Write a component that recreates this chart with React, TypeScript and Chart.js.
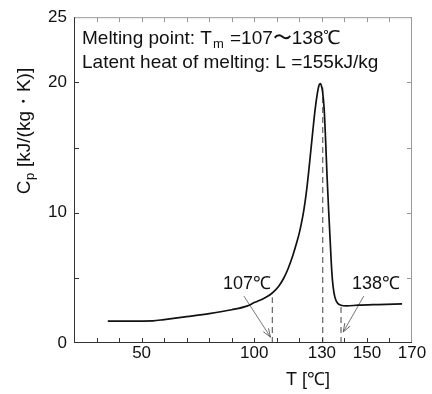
import React, { useEffect, useRef } from "react";
import { Chart, registerables } from "chart.js";

Chart.register(...registerables);

// Specific heat curve (T in °C, Cp in kJ/(kg·K))
const tempC = [35, 45, 55, 60, 70, 80, 90, 97, 100, 104, 107, 109, 111, 113, 115, 117, 119, 120, 121, 122, 123, 124, 125, 126, 127, 128, 128.7, 129.2, 129.7, 130.3, 131, 131.6, 132.3, 133, 133.7, 134.4, 135, 135.8, 137, 138.5, 141, 146, 155, 165.6];
const cpValues = [1.68, 1.68, 1.7, 1.8, 2.02, 2.25, 2.55, 2.85, 3.1, 3.4, 3.7, 4.0, 4.4, 4.95, 5.7, 6.65, 7.8, 8.45, 9.25, 10.2, 11.4, 12.9, 14.6, 16.3, 17.9, 19.15, 19.75, 19.9, 19.8, 19.3, 18.0, 15.8, 12.8, 10.2, 7.8, 5.5, 4.3, 3.5, 3.05, 2.9, 2.85, 2.9, 2.95, 3.0];

// Axis ticks
const xTickLabels = [50, 100, 130, 150, 170];
const xMinorTicks = [30, 40, 50, 60, 70, 80, 90, 100, 110, 120, 130, 140, 150, 160];
const yTickLabels = [0, 10, 20, 25];
const yMinorTicks = [5, 10, 15, 20];

// Dashed marker lines
const markerTemps = [108, 130.4, 138.5];
const markerTops = [3.5, 19.6, 2.8];

// Arrow annotations
const arrowLabels = ["107℃", "138℃"];
const arrowLabelT = [96.8, 154];
const arrowLabelCp = [4.5, 4.5];
const arrowStartT = [95.4, 148.6];
const arrowStartCp = [3.6, 3.6];
const arrowEndT = [107.2, 139.5];
const arrowEndCp = [0.45, 0.85];

const FONT = "'Liberation Sans', Arial, Helvetica, sans-serif";

export default function App() {
  const ref = useRef<HTMLCanvasElement | null>(null);

  useEffect(() => {
    const canvas = ref.current;
    if (!canvas) return;

    const datasets: any[] = [
      {
        data: tempC.map((t, i) => ({ x: t, y: cpValues[i] })),
        borderColor: "#111",
        borderWidth: 1.7,
        pointRadius: 0,
        cubicInterpolationMode: "monotone",
        fill: false,
      },
    ];
    markerTemps.forEach((t, i) => {
      datasets.push({
        data: [
          { x: t, y: 0 },
          { x: t, y: markerTops[i] },
        ],
        borderColor: "#444",
        borderWidth: 1,
        borderDash: [6, 4],
        pointRadius: 0,
        fill: false,
      });
    });
    arrowStartT.forEach((t, i) => {
      datasets.push({
        data: [
          { x: t, y: arrowStartCp[i] },
          { x: arrowEndT[i], y: arrowEndCp[i] },
        ],
        borderColor: "#555",
        borderWidth: 0.8,
        pointRadius: 0,
        fill: false,
      });
    });

    const decor = {
      id: "decor",
      afterDraw(chart: any) {
        const ctx = chart.ctx;
        const xs = chart.scales.x;
        const ys = chart.scales.y;
        const { left, right, top, bottom } = chart.chartArea;
        ctx.save();

        // frame
        ctx.lineWidth = 1;
        ctx.strokeStyle = "#999";
        ctx.beginPath();
        ctx.moveTo(left, top + 0.5);
        ctx.lineTo(right, top + 0.5);
        ctx.moveTo(right - 0.5, top);
        ctx.lineTo(right - 0.5, bottom);
        ctx.stroke();
        ctx.strokeStyle = "#333";
        ctx.beginPath();
        ctx.moveTo(left + 0.5, top);
        ctx.lineTo(left + 0.5, bottom);
        ctx.moveTo(left, bottom - 0.5);
        ctx.lineTo(right, bottom - 0.5);
        ctx.stroke();

        // ticks (inside)
        ctx.strokeStyle = "#333";
        ctx.beginPath();
        xMinorTicks.forEach((v) => {
          const px = Math.round(xs.getPixelForValue(v)) + 0.5;
          ctx.moveTo(px, bottom);
          ctx.lineTo(px, bottom - 5);
        });
        yMinorTicks.forEach((v) => {
          const py = Math.round(ys.getPixelForValue(v)) + 0.5;
          ctx.moveTo(left, py);
          ctx.lineTo(left + 5, py);
        });
        ctx.stroke();
        ctx.strokeStyle = "#999";
        ctx.beginPath();
        xMinorTicks.forEach((v) => {
          const px = Math.round(xs.getPixelForValue(v)) + 0.5;
          ctx.moveTo(px, top);
          ctx.lineTo(px, top + 5);
        });
        yMinorTicks.forEach((v) => {
          const py = Math.round(ys.getPixelForValue(v)) + 0.5;
          ctx.moveTo(right, py);
          ctx.lineTo(right - 5, py);
        });
        ctx.stroke();

        // arrowheads
        ctx.strokeStyle = "#555";
        ctx.lineWidth = 0.9;
        arrowStartT.forEach((t, i) => {
          const x0 = xs.getPixelForValue(t);
          const y0 = ys.getPixelForValue(arrowStartCp[i]);
          const x1 = xs.getPixelForValue(arrowEndT[i]);
          const y1 = ys.getPixelForValue(arrowEndCp[i]);
          const a = Math.atan2(y1 - y0, x1 - x0);
          const len = 9;
          const spread = 0.35;
          ctx.beginPath();
          ctx.moveTo(x1 - len * Math.cos(a - spread), y1 - len * Math.sin(a - spread));
          ctx.lineTo(x1, y1);
          ctx.lineTo(x1 - len * Math.cos(a + spread), y1 - len * Math.sin(a + spread));
          ctx.stroke();
        });

        // arrow labels
        ctx.fillStyle = "#111";
        ctx.font = `18px ${FONT}`;
        ctx.textAlign = "center";
        ctx.textBaseline = "middle";
        arrowLabels.forEach((s, i) => {
          ctx.fillText(s, xs.getPixelForValue(arrowLabelT[i]), ys.getPixelForValue(arrowLabelCp[i]));
        });

        // annotation text
        ctx.textAlign = "left";
        ctx.textBaseline = "alphabetic";
        const big = `19px ${FONT}`;
        const small = `13px ${FONT}`;
        let x = left + 8;
        const y = 44;
        ctx.font = big;
        const p1 = "Melting point: T";
        ctx.fillText(p1, x, y);
        x += ctx.measureText(p1).width;
        ctx.font = small;
        ctx.fillText("m", x + 1, y + 4);
        x += ctx.measureText("m").width + 2;
        ctx.font = big;
        ctx.fillText(" =107〜138℃", x, y);
        ctx.fillText("Latent heat of melting: L =155kJ/kg", left + 8, 68);

        // x title
        ctx.font = `18px ${FONT}`;
        ctx.textAlign = "center";
        ctx.textBaseline = "middle";
        ctx.fillText("T [℃]", 308, 380);

        // y title
        ctx.save();
        ctx.translate(23, 131);
        ctx.rotate(-Math.PI / 2);
        const fa = `19px ${FONT}`;
        const fb = `13px ${FONT}`;
        ctx.font = fa;
        const wC = ctx.measureText("C").width;
        const rest = " [kJ/(kg・K)]";
        const wR = ctx.measureText(rest).width;
        ctx.font = fb;
        const wp = ctx.measureText("p").width;
        const total = wC + wp + 1 + wR;
        let cx = -total / 2;
        ctx.textAlign = "left";
        ctx.textBaseline = "alphabetic";
        ctx.font = fa;
        ctx.fillText("C", cx, 7);
        cx += wC;
        ctx.font = fb;
        ctx.fillText("p", cx + 0.5, 11);
        cx += wp + 1;
        ctx.font = fa;
        ctx.fillText(rest, cx, 7);
        ctx.restore();

        ctx.restore();
      },
    };

    const chart = new Chart(canvas, {
      type: "line",
      data: { datasets },
      options: {
        responsive: false,
        animation: false,
        devicePixelRatio: 1,
        parsing: false as any,
        layout: { padding: { top: 13, right: 20, left: 0, bottom: 0 } },
        plugins: { legend: { display: false }, tooltip: { enabled: false } },
        scales: {
          x: {
            type: "linear",
            min: 20,
            max: 170,
            grid: { display: false, drawTicks: false },
            border: { display: false },
            ticks: {
              autoSkip: false,
              maxRotation: 0,
              padding: 0,
              color: "#111",
              font: { family: FONT, size: 17 },
            },
            afterBuildTicks: (s: any) => {
              s.ticks = xTickLabels.map((v) => ({ value: v }));
            },
            afterFit: (s: any) => {
              s.height = 51;
            },
          },
          y: {
            type: "linear",
            min: 0,
            max: 25,
            grid: { display: false, drawTicks: false },
            border: { display: false },
            ticks: {
              autoSkip: false,
              padding: 7,
              color: "#111",
              font: { family: FONT, size: 17 },
            },
            afterBuildTicks: (s: any) => {
              s.ticks = yTickLabels.map((v) => ({ value: v }));
            },
            afterFit: (s: any) => {
              s.width = 74;
            },
          },
        },
      },
      plugins: [decor],
    } as any);

    return () => chart.destroy();
  }, []);

  return (
    <div style={{ position: "absolute", left: 0, top: 0, width: 432, height: 394, background: "#fff" }}>
      <canvas ref={ref} width={432} height={394} style={{ width: 432, height: 394, display: "block" }} />
    </div>
  );
}
